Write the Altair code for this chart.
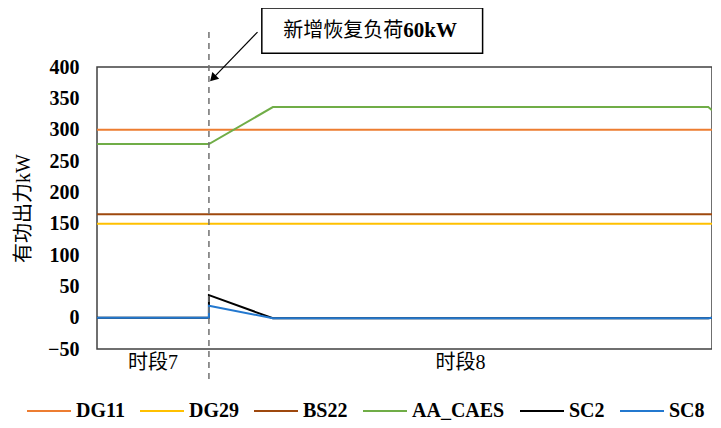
import altair as alt
import pandas as pd

# ---- data ----
series_names = ["DG11", "DG29", "BS22", "AA_CAES", "SC2", "SC8"]
series_colors = ["#ED7D31", "#FFC000", "#9E480E", "#70AD47", "#000000", "#2378CF"]

t_flat = [0, 100]
dg11 = [300, 300]
dg29 = [150, 150]
bs22 = [165, 165]

t_caes = [0, 18.2, 28.6, 99.4, 100]
aa_caes = [277, 277, 336, 336, 331]

t_sc = [0, 18.2, 18.2, 28.6, 99.4, 100]
sc2 = [0, 0, 36, -1, -1, 0]
sc8 = [0, 0, 19, -1, -1, 0]

y_ticks = [-50, 0, 50, 100, 150, 200, 250, 300, 350, 400]

event_t = 18.2
period_labels = ["时段7", "时段8"]
period_centers = [9.1, 59.1]
annotation_cjk = "新增恢复负荷"
annotation_num = "60kW"

# ---- build long table ----
rows = []
for name, ts, vs in [("DG11", t_flat, dg11), ("DG29", t_flat, dg29), ("BS22", t_flat, bs22),
                     ("AA_CAES", t_caes, aa_caes), ("SC2", t_sc, sc2), ("SC8", t_sc, sc8)]:
    for i, (t, v) in enumerate(zip(ts, vs)):
        rows.append({"series": name, "t": t, "p": v, "i": i})
df = pd.DataFrame(rows)

FONT = "'Liberation Serif', 'Noto Sans CJK SC'"
W, H = 615, 282

xs = alt.Scale(domain=[0, 100], nice=False, zero=False)
ys = alt.Scale(domain=[-50, 400], nice=False, zero=False)

y_axis = alt.Axis(values=y_ticks, grid=False, ticks=False, domain=False,
                  labelOverlap=False,
                  labelFont="Liberation Serif", labelFontWeight="bold",
                  labelFontSize=20, labelColor="#000000", labelPadding=18,
                  title="有功出力kW", titleFont=FONT, titleFontSize=20,
                  titleFontWeight="normal", titleColor="#000000", titlePadding=14)


def X(field):
    return alt.X(field, scale=xs, axis=None)


def Y(field):
    return alt.Y(field, scale=ys, axis=y_axis)


lines = alt.Chart(df).mark_line(strokeWidth=2, clip=False).encode(
    x=X("t:Q"),
    y=Y("p:Q"),
    color=alt.Color("series:N",
                    scale=alt.Scale(domain=series_names, range=series_colors),
                    sort=series_names,
                    legend=alt.Legend(title=None, orient="none", legendX=-71, legendY=321,
                                      direction="horizontal", symbolType="stroke",
                                      symbolSize=1936, symbolStrokeWidth=2,
                                      labelFont="Liberation Serif", labelFontWeight="bold",
                                      labelFontSize=20, labelColor="#000000",
                                      labelOffset=4, columnPadding=11)),
    order="i:Q",
    detail="series:N",
)

evt = pd.DataFrame({"t": [event_t], "top": [456], "bot": [-100]})
dashed = alt.Chart(evt).mark_rule(color="#707070", strokeDash=[6, 5], strokeWidth=1.5, clip=False).encode(
    x=X("t:Q"), y=Y("top:Q"), y2="bot:Q")

per = pd.DataFrame({"t": period_centers, "p": [-72, -72], "label": period_labels})
period_text = alt.Chart(per).mark_text(font=FONT, fontSize=20, color="#000000", baseline="middle").encode(
    x=X("t:Q"), y=Y("p:Q"), text="label:N")

box = pd.DataFrame({"x1": [26.8], "x2": [62.7], "y1": [494], "y2": [422]})
ann_box = alt.Chart(box).mark_rect(fill="white", stroke="#000000", strokeWidth=1.5, clip=False).encode(
    x=X("x1:Q"), x2="x2:Q", y=Y("y1:Q"), y2="y2:Q")

txt1 = pd.DataFrame({"t": [49.8], "p": [458], "label": [annotation_cjk]})
ann_text1 = alt.Chart(txt1).mark_text(font="Noto Sans CJK SC", fontSize=20, fontWeight="normal",
                                      color="#000000", baseline="middle", align="right").encode(
    x=X("t:Q"), y=Y("p:Q"), text="label:N")

txt2 = pd.DataFrame({"t": [49.8], "p": [458], "label": [annotation_num]})
ann_text2 = alt.Chart(txt2).mark_text(font="Liberation Serif", fontSize=21, fontWeight="bold",
                                      color="#000000", baseline="middle", align="left").encode(
    x=X("t:Q"), y=Y("p:Q"), text="label:N")

arr = pd.DataFrame({"x1": [26.1], "y1": [455.7], "x2": [18.6], "y2": [379.5]})
arrow_line = alt.Chart(arr).mark_rule(color="#000000", strokeWidth=1.2, clip=False).encode(
    x=X("x1:Q"), y=Y("y1:Q"), x2="x2:Q", y2="y2:Q")

head = pd.DataFrame({"t": [19.0], "p": [383.5]})
arrow_head = alt.Chart(head).mark_point(shape="triangle", size=90, filled=True, color="#000000",
                                        angle=224, opacity=1, clip=False).encode(
    x=X("t:Q"), y=Y("p:Q"))

chart = alt.layer(lines, dashed, period_text, ann_box, ann_text1, ann_text2, arrow_line, arrow_head).properties(
    width=W, height=H,
    autosize=alt.AutoSizeParams(type="none"),
    padding={"left": 89, "top": 59, "right": 0, "bottom": 71},
    background="white",
).configure_view(stroke="#404040", strokeWidth=1.5)

chart.save("out.html", embed_options={"renderer": "svg", "actions": False})
